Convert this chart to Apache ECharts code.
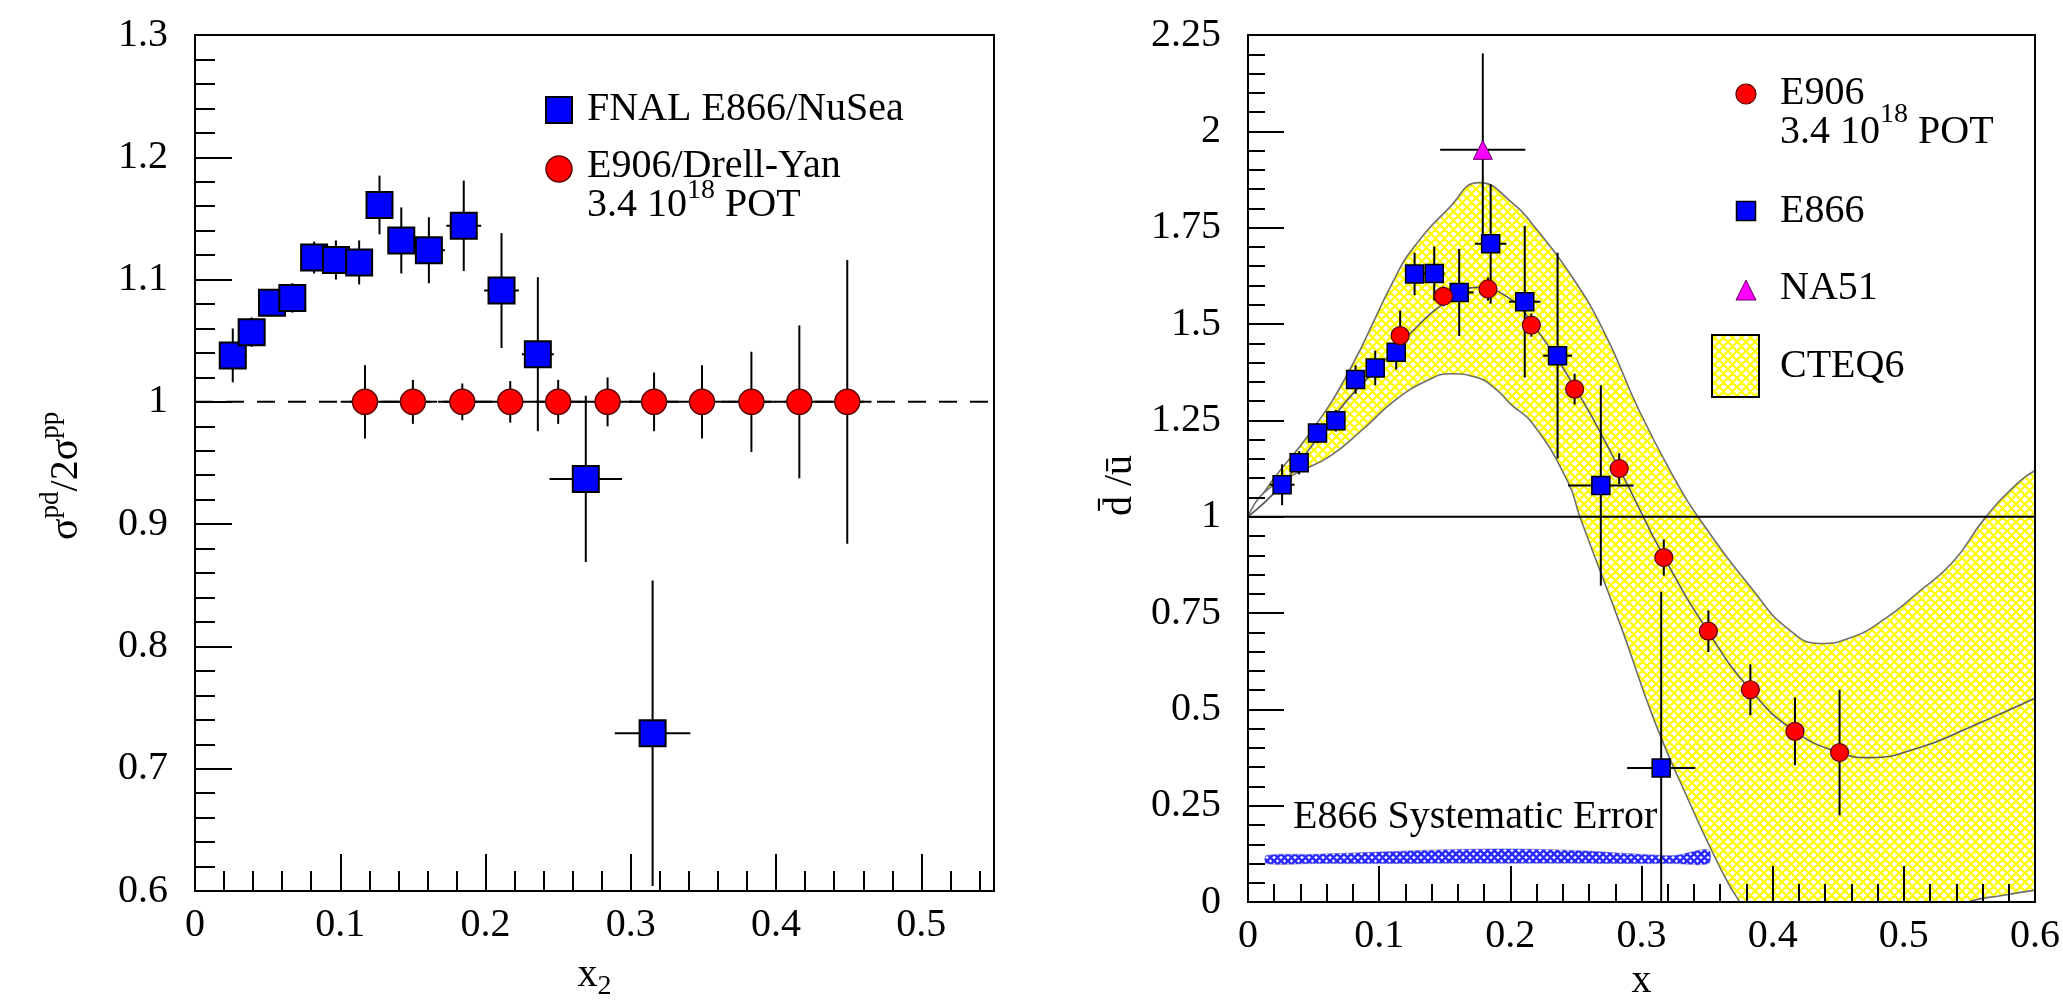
<!DOCTYPE html>
<html><head><meta charset="utf-8">
<script src="https://cdn.jsdelivr.net/npm/echarts@6/dist/echarts.min.js"></script>
<style>html,body{margin:0;padding:0;background:#fff}#c{width:2063px;height:1006px}</style>
</head><body><div id="c"></div>
<script>
// ---------------- data ----------------
// Left panel: sigma_pd / 2 sigma_pp vs x2
const e866X      = [0.026, 0.039, 0.053, 0.067, 0.082, 0.097, 0.113, 0.127, 0.142, 0.161, 0.185, 0.211, 0.236, 0.269, 0.315];
const e866XErr   = [0.0095, 0.007, 0.007, 0.007, 0.007, 0.007, 0.007, 0.007, 0.008, 0.011, 0.012, 0.012, 0.011, 0.025, 0.026];
const ratioE866    = [1.038, 1.057, 1.081, 1.085, 1.118, 1.116, 1.114, 1.161, 1.132, 1.124, 1.144, 1.091, 1.039, 0.937, 0.729];
const ratioE866Err = [0.022, 0.012, 0.011, 0.012, 0.013, 0.016, 0.018, 0.024, 0.027, 0.027, 0.037, 0.047, 0.063, 0.068, 0.125];
const e906X        = [0.117, 0.150, 0.184, 0.217, 0.250, 0.284, 0.316, 0.349, 0.383, 0.416, 0.449];
const e906XErr     = [0.0167, 0.0167, 0.0167, 0.0167, 0.0167, 0.0167, 0.0167, 0.0167, 0.0167, 0.0167, 0.0167];
const ratioE906    = [1, 1, 1, 1, 1, 1, 1, 1, 1, 1, 1];
const ratioE906Err = [0.030, 0.018, 0.015, 0.017, 0.018, 0.020, 0.024, 0.030, 0.041, 0.0625, 0.116];
const refLeft      = [[0, 1], [0.55, 1]];

// Right panel: dbar/ubar vs x
const dbarE866    = [1.083, 1.140, 1.217, 1.249, 1.356, 1.386, 1.427, 1.630, 1.631, 1.582, 1.708, 1.558, 1.418, 1.081, 0.348];
const dbarE866Err = [0.053, 0.030, 0.026, 0.028, 0.037, 0.045, 0.045, 0.055, 0.070, 0.113, 0.155, 0.197, 0.267, 0.260, 0.457];
const dbarE906X   = [0.116, 0.149, 0.183, 0.216, 0.249, 0.283, 0.317, 0.351, 0.383, 0.417, 0.451];
const dbarE906    = [1.470, 1.572, 1.591, 1.497, 1.331, 1.125, 0.894, 0.703, 0.551, 0.443, 0.388];
const dbarE906Err = [0.065, 0.026, 0.030, 0.030, 0.040, 0.040, 0.047, 0.054, 0.066, 0.088, 0.163];
const na51X = [0.179], na51 = [1.952], na51Err = [0.25], na51XErr = [0.0325];
const refRight = [[0, 1], [0.6, 1]];

// CTEQ6 band (upper edge, lower edge, central curve)
const cteqUpX = [0, 0.019, 0.047, 0.076, 0.112, 0.127, 0.153, 0.176, 0.203, 0.217, 0.244, 0.271, 0.298, 0.325, 0.343, 0.386, 0.411, 0.436, 0.461, 0.486, 0.511, 0.537, 0.562, 0.587, 0.6];
const cteqUp  = [1.0, 1.096, 1.216, 1.371, 1.62, 1.702, 1.80, 1.867, 1.81, 1.758, 1.638, 1.483, 1.277, 1.10, 1.0, 0.805, 0.711, 0.671, 0.688, 0.736, 0.804, 0.881, 0.997, 1.088, 1.12];
const cteqLoX = [0, 0.012, 0.037, 0.062, 0.087, 0.112, 0.137, 0.154, 0.174, 0.19, 0.2, 0.217, 0.244, 0.253, 0.285, 0.31, 0.336, 0.361, 0.375, 0.4, 0.425, 0.45, 0.475, 0.5, 0.525, 0.549, 0.575, 0.6];
const cteqLo  = [1.0, 1.062, 1.113, 1.156, 1.225, 1.302, 1.354, 1.371, 1.362, 1.328, 1.293, 1.242, 1.09, 1.0, 0.709, 0.469, 0.263, 0.082, 0.0, -0.11, -0.16, -0.17, -0.15, -0.10, -0.045, 0.0, 0.017, 0.031];
const cteqMidX = [0, 0.025, 0.05, 0.075, 0.1, 0.125, 0.15, 0.175, 0.2, 0.217, 0.25, 0.283, 0.318, 0.351, 0.383, 0.417, 0.451, 0.474, 0.511, 0.549, 0.6];
const cteqMid  = [1.0, 1.08, 1.19, 1.30, 1.39, 1.48, 1.555, 1.595, 1.565, 1.50, 1.331, 1.125, 0.89, 0.701, 0.551, 0.443, 0.388, 0.375, 0.40, 0.452, 0.529];

// E866 systematic error band
const sysX  = [0.014, 0.05, 0.1, 0.15, 0.2, 0.25, 0.3, 0.325, 0.351];
const sysLo = [0.100, 0.100, 0.100, 0.101, 0.101, 0.101, 0.100, 0.100, 0.100];
const sysHi = [0.121, 0.124, 0.130, 0.136, 0.138, 0.134, 0.124, 0.121, 0.136];

// ---------------- helpers ----------------
const FONT = '"Liberation Serif", "Times New Roman", serif';
const mctx = document.createElement('canvas').getContext('2d');
function textW(t, fs) { mctx.font = fs + 'px ' + FONT; return mctx.measureText(t).width; }
function textRun(x, base, parts, z) {
  const out = []; let cx = x;
  parts.forEach(p => {
    const fs = p.fs || 40, b = base + (p.dy || 0);
    out.push({type: 'text', x: cx, y: b - 0.3375 * fs, silent: true, z: z == null ? 50 : z,
      style: {text: p.t, fontSize: fs, fontFamily: FONT, fill: '#000', align: 'left', verticalAlign: 'middle'}});
    cx += textW(p.t, fs);
  });
  return out;
}
function hatch(color, size, lw) {
  const c = document.createElement('canvas'); c.width = size; c.height = size;
  const g = c.getContext('2d');
  g.fillStyle = '#ffffff'; g.fillRect(0, 0, size, size);
  g.strokeStyle = color; g.lineWidth = lw; g.beginPath();
  [-size, 0, size].forEach(o => {
    g.moveTo(o, 0); g.lineTo(o + size, size);
    g.moveTo(o + size, 0); g.lineTo(o, size);
  });
  g.stroke();
  return c;
}
const yellowHatch = {image: hatch('#ffff00', 9, 2.2), repeat: 'repeat'};
const blueHatch = {image: hatch('#2a2aff', 7, 2.6), repeat: 'repeat'};
const pairs = (xs, ys) => xs.map((x, i) => [x, ys[i]]);

function errSeries(xi, yi, xs, ys, yerr, xerr, z) {
  return {
    type: 'custom', xAxisIndex: xi, yAxisIndex: yi, clip: true, z: z, silent: true,
    data: xs.map((x, i) => [x, ys[i], yerr[i], xerr ? xerr[i] : 0]),
    renderItem: function (p, api) {
      const x = api.value(0), y = api.value(1), ey = api.value(2), ex = api.value(3);
      const a = api.coord([x, y - ey]), b = api.coord([x, y + ey]);
      const ch = [{type: 'line', shape: {x1: a[0], y1: a[1], x2: b[0], y2: b[1]}, style: {stroke: '#000', lineWidth: 2}}];
      if (ex > 0) {
        const c = api.coord([x - ex, y]), d = api.coord([x + ex, y]);
        ch.push({type: 'line', shape: {x1: c[0], y1: c[1], x2: d[0], y2: d[1]}, style: {stroke: '#000', lineWidth: 2}});
      }
      return {type: 'group', children: ch};
    }
  };
}

const axisFont = {fontFamily: FONT, fontSize: 40, color: '#000'};
const tickStyle = {color: '#000', width: 2};

const option = {
  animation: false,
  backgroundColor: '#fff',
  grid: [
    {left: 195, top: 35, width: 799, height: 874, show: true, borderColor: '#000', borderWidth: 2, backgroundColor: 'transparent', z: 10},
    {left: 1248, top: 35, width: 797, height: 874, show: true, borderColor: '#000', borderWidth: 2, backgroundColor: 'transparent', z: 10}
  ],
  xAxis: [
    {gridIndex: 0, type: 'value', position: 'bottom', min: 0, max: 0.55, interval: 0.1, z: 10,
     axisLine: {show: false}, splitLine: {show: false},
     axisTick: {inside: true, length: 37, lineStyle: tickStyle},
     axisLabel: Object.assign({margin: 14, showMaxLabel: false}, axisFont),
     name: '{m|x}{s|2}', nameLocation: 'middle', nameGap: 58,
     nameTextStyle: {rich: {m: {fontFamily: FONT, fontSize: 40, color: '#000'}, s: {fontFamily: FONT, fontSize: 28, color: '#000', padding: [24, 0, 0, 0]}}}},
    {gridIndex: 0, type: 'value', position: 'bottom', min: 0, max: 0.55, interval: 0.02, z: 10,
     axisLine: {show: false}, splitLine: {show: false}, axisLabel: {show: false},
     axisTick: {inside: true, length: 20, lineStyle: tickStyle}},
    {gridIndex: 1, type: 'value', position: 'bottom', min: 0, max: 0.6, interval: 0.1, z: 10,
     axisLine: {show: false}, splitLine: {show: false},
     axisTick: {inside: true, length: 36, lineStyle: tickStyle},
     minorTick: {show: true, splitNumber: 5, length: 18, lineStyle: tickStyle},
     axisLabel: Object.assign({margin: 14}, axisFont),
     name: 'x', nameLocation: 'middle', nameGap: 58,
     nameTextStyle: {fontFamily: FONT, fontSize: 40, color: '#000'}}
  ],
  yAxis: [
    {gridIndex: 0, type: 'value', min: 0.6, max: 1.3, interval: 0.1, z: 10,
     axisLine: {show: false}, splitLine: {show: false},
     axisTick: {inside: true, length: 37, lineStyle: tickStyle},
     minorTick: {show: true, splitNumber: 5, length: 20, lineStyle: tickStyle},
     axisLabel: Object.assign({margin: 27}, axisFont)},
    {gridIndex: 1, type: 'value', min: 0, max: 2.25, interval: 0.25, z: 10,
     axisLine: {show: false}, splitLine: {show: false},
     axisTick: {inside: true, length: 36, lineStyle: tickStyle},
     minorTick: {show: true, splitNumber: 5, length: 17, lineStyle: tickStyle},
     axisLabel: Object.assign({margin: 27}, axisFont)}
  ],
  series: [
    // ----- left panel -----
    {name: 'unity', type: 'line', xAxisIndex: 0, yAxisIndex: 0, data: refLeft, symbol: 'none', silent: true, z: 3,
     lineStyle: {color: '#000', width: 2, type: [18, 13]}},
    errSeries(0, 0, e866X, ratioE866, ratioE866Err, e866XErr, 4),
    errSeries(0, 0, e906X, ratioE906, ratioE906Err, e906XErr, 4),
    {name: 'FNAL E866/NuSea', type: 'scatter', xAxisIndex: 0, yAxisIndex: 0, data: pairs(e866X, ratioE866), z: 6,
     symbol: 'rect', symbolSize: 26, itemStyle: {color: '#0000ff', borderColor: '#000', borderWidth: 2, opacity: 1}},
    {name: 'E906/Drell-Yan', type: 'scatter', xAxisIndex: 0, yAxisIndex: 0, data: pairs(e906X, ratioE906), z: 6,
     symbol: 'circle', symbolSize: 25, itemStyle: {color: '#ff0000', borderColor: '#5a0000', borderWidth: 1.5, opacity: 1}},
    // ----- right panel -----
    {name: 'CTEQ6 upper', type: 'line', xAxisIndex: 2, yAxisIndex: 1, data: pairs(cteqUpX, cteqUp), smooth: true, symbol: 'none', silent: true, z: 1,
     lineStyle: {color: '#6e6e6e', width: 1.6}, areaStyle: {color: yellowHatch, opacity: 1, origin: 'start'}},
    {name: 'CTEQ6 lower', type: 'line', xAxisIndex: 2, yAxisIndex: 1, data: pairs(cteqLoX, cteqLo), smooth: true, symbol: 'none', silent: true, z: 2,
     lineStyle: {color: '#6e6e6e', width: 1.6}, areaStyle: {color: '#ffffff', opacity: 1, origin: 'start'}},
    {name: 'E866 Systematic Error', type: 'custom', xAxisIndex: 2, yAxisIndex: 1, clip: true, z: 3, silent: true,
     data: [[sysX[0], sysLo[0]]],
     renderItem: function (p, api) {
       const pts = [];
       sysX.forEach((x, i) => pts.push(api.coord([x, sysHi[i]])));
       for (let i = sysX.length - 1; i >= 0; i--) pts.push(api.coord([sysX[i], sysLo[i]]));
       return {type: 'polygon', shape: {points: pts, smooth: 0.3}, style: {fill: blueHatch, stroke: 'rgba(90,90,200,0.5)', lineWidth: 1}};
     }},
    {name: 'CTEQ6 central', type: 'line', xAxisIndex: 2, yAxisIndex: 1, data: pairs(cteqMidX, cteqMid), smooth: true, symbol: 'none', silent: true, z: 4,
     lineStyle: {color: '#5a5a5a', width: 1.6}},
    {name: 'unity R', type: 'line', xAxisIndex: 2, yAxisIndex: 1, data: refRight, symbol: 'none', silent: true, z: 4,
     lineStyle: {color: '#000', width: 2}},
    errSeries(2, 1, e866X, dbarE866, dbarE866Err, e866XErr, 5),
    errSeries(2, 1, dbarE906X, dbarE906, dbarE906Err, null, 5),
    errSeries(2, 1, na51X, na51, na51Err, na51XErr, 5),
    {name: 'E866', type: 'scatter', xAxisIndex: 2, yAxisIndex: 1, data: pairs(e866X, dbarE866), z: 6,
     symbol: 'rect', symbolSize: 18, itemStyle: {color: '#0000ff', borderColor: '#000', borderWidth: 1.5, opacity: 1}},
    {name: 'E906', type: 'scatter', xAxisIndex: 2, yAxisIndex: 1, data: pairs(dbarE906X, dbarE906), z: 6,
     symbol: 'circle', symbolSize: 18, itemStyle: {color: '#ff0000', borderColor: '#5a0000', borderWidth: 1.2, opacity: 1}},
    {name: 'NA51', type: 'scatter', xAxisIndex: 2, yAxisIndex: 1, data: pairs(na51X, na51), z: 6,
     symbol: 'triangle', symbolSize: 19, itemStyle: {color: '#ff00ff', borderColor: '#600060', borderWidth: 1, opacity: 1}}
  ],
  graphic: [].concat(
    // left legend
    [{type: 'rect', shape: {x: 546, y: 97, width: 26, height: 26}, style: {fill: '#0000ff', stroke: '#000', lineWidth: 2}, silent: true, z: 50},
     {type: 'circle', shape: {cx: 559, cy: 169, r: 13}, style: {fill: '#ff0000', stroke: '#5a0000', lineWidth: 1.5}, silent: true, z: 50}],
    textRun(587, 123, [{t: 'FNAL E866/NuSea'}]),
    textRun(587, 180, [{t: 'E906/Drell-Yan'}]),
    textRun(587, 219, [{t: '3.4 10'}, {t: '18', fs: 28, dy: -19}, {t: ' POT'}]),
    // right legend
    [{type: 'circle', shape: {cx: 1746, cy: 94, r: 10}, style: {fill: '#ff0000', stroke: '#5a0000', lineWidth: 1.2}, silent: true, z: 50},
     {type: 'rect', shape: {x: 1736.5, y: 201.5, width: 19, height: 19}, style: {fill: '#0000ff', stroke: '#000', lineWidth: 1.5}, silent: true, z: 50},
     {type: 'polygon', shape: {points: [[1746, 280], [1756, 300], [1736, 300]]}, style: {fill: '#ff00ff', stroke: '#600060', lineWidth: 1}, silent: true, z: 50},
     {type: 'rect', shape: {x: 1712, y: 335, width: 47, height: 62}, style: {fill: yellowHatch, stroke: '#000', lineWidth: 2}, silent: true, z: 50}],
    textRun(1780, 107, [{t: 'E906'}]),
    textRun(1780, 146, [{t: '3.4 10'}, {t: '18', fs: 28, dy: -22}, {t: ' POT'}]),
    textRun(1780, 225, [{t: 'E866'}]),
    textRun(1780, 302, [{t: 'NA51'}]),
    textRun(1780, 380, [{t: 'CTEQ6'}]),
    // annotation
    textRun(1293, 831, [{t: 'E866 Systematic Error'}]),
    // rotated y-axis names
    [{type: 'group', x: 80, y: 540, rotation: Math.PI / 2, silent: true, z: 50,
      children: textRun(0, 0, [{t: '\u03c3'}, {t: 'pd', fs: 27, dy: -20}, {t: '/2\u03c3'}, {t: 'pp', fs: 27, dy: -20}])},
     {type: 'group', x: 1134, y: 516, rotation: Math.PI / 2, silent: true, z: 50,
      children: textRun(0, 0, [{t: 'd\u0304 /\u016b'}])}]
  )
};

const chart = echarts.init(document.getElementById('c'), null, {renderer: 'canvas'});
chart.setOption(option);
</script>
</body></html>
